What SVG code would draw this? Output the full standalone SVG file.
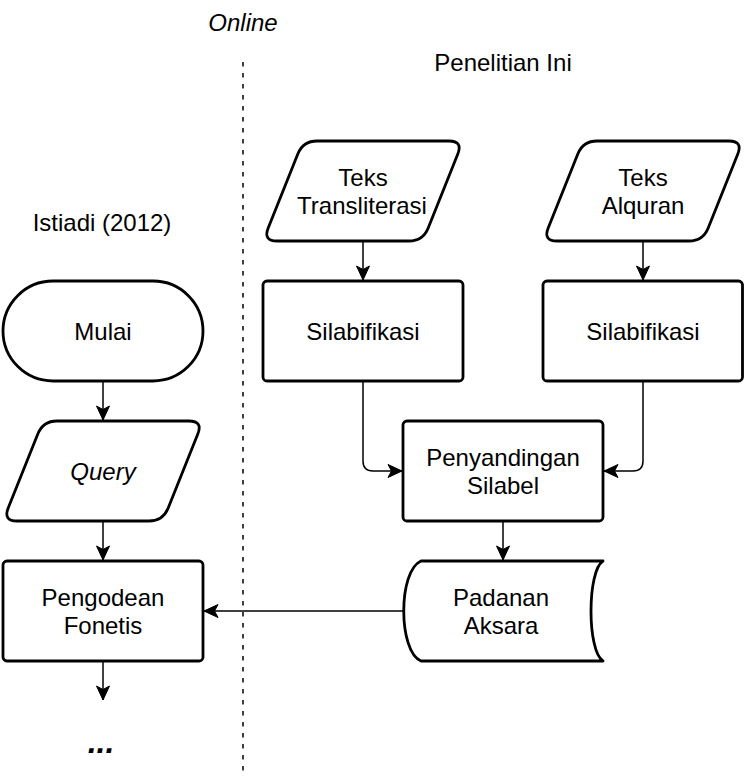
<svg xmlns="http://www.w3.org/2000/svg" xmlns:xlink="http://www.w3.org/1999/xlink" width="744" height="784" viewBox="0 0 744 784">
  <style>
    .shape { fill: #ffffff; stroke: #000000; stroke-width: 2.8; stroke-linejoin: round; }
    .conn { fill: none; stroke: #000000; stroke-width: 1.5; }
    .dash { fill: none; stroke: #000000; stroke-width: 1.5; stroke-dasharray: 4.5 6.5; }
    text { font-family: "Liberation Sans", Arial, Helvetica, sans-serif; font-size: 24px; fill: #000000; text-anchor: middle; dominant-baseline: central; }
    .it { font-style: italic; }
    .dots { font-size: 32px; font-weight: bold; font-style: italic; dominant-baseline: alphabetic; }
  </style>
  <defs>
    <marker id="arrow" viewBox="-15 -8 16 16" refX="0" refY="0" markerWidth="16" markerHeight="16" orient="auto" markerUnits="userSpaceOnUse">
      <path d="M0,0 L-14,-6.5 L-10.5,0 L-14,6.5 Z" fill="#000000" stroke="#000000" stroke-width="1" stroke-linejoin="miter"/>
    </marker>
    <path id="para" d="M54,0 H186 Q200,0 194.8,13 L165.2,87 Q160,100 146,100 H14 Q0,100 5.2,87 L34.8,13 Q40,0 54,0 Z"/>
  </defs>
  <rect x="0" y="0" width="744" height="784" fill="#ffffff"/>

  <g id="labels">
    <text class="it" x="243" y="22">Online</text>
    <text x="503" y="62">Penelitian Ini</text>
    <text x="102" y="222">Istiadi (2012)</text>
  </g>

  <g id="connectors">
    <path class="dash" d="M243,62 V775"/>
    <path class="conn" d="M103,381 V420" marker-end="url(#arrow)"/>
    <path class="conn" d="M103,521 V560" marker-end="url(#arrow)"/>
    <path class="conn" d="M103,661 V700" marker-end="url(#arrow)"/>
    <path class="conn" d="M363,241 V280" marker-end="url(#arrow)"/>
    <path class="conn" d="M643,241 V280" marker-end="url(#arrow)"/>
    <path class="conn" d="M363,381 V461 Q363,471 373,471 H402" marker-end="url(#arrow)"/>
    <path class="conn" d="M643,381 V461 Q643,471 633,471 H604" marker-end="url(#arrow)"/>
    <path class="conn" d="M503,521 V560" marker-end="url(#arrow)"/>
    <path class="conn" d="M403,611 H204" marker-end="url(#arrow)"/>
  </g>

  <g id="mulai">
    <rect class="shape" x="3" y="281" width="200" height="100" rx="50" ry="50"/>
    <text x="103" y="331">Mulai</text>
  </g>

  <g id="query">
    <use xlink:href="#para" href="#para" class="shape" x="3" y="421"/>
    <text class="it" x="103" y="471">Query</text>
  </g>

  <g id="pengodean-fonetis">
    <rect class="shape" x="3" y="561" width="200" height="100" rx="4" ry="4"/>
    <text x="103" y="597.5">Pengodean</text>
    <text x="103" y="625">Fonetis</text>
  </g>

  <g id="ellipsis">
    <text class="dots" x="101" y="753">...</text>
  </g>

  <g id="teks-transliterasi">
    <use xlink:href="#para" href="#para" class="shape" x="263" y="141"/>
    <text x="363" y="177.5">Teks</text>
    <text x="362" y="205">Transliterasi</text>
  </g>

  <g id="teks-alquran">
    <use xlink:href="#para" href="#para" class="shape" x="543" y="141"/>
    <text x="643" y="177.5">Teks</text>
    <text x="643" y="205">Alquran</text>
  </g>

  <g id="silabifikasi-1">
    <rect class="shape" x="263" y="281" width="200" height="100" rx="4" ry="4"/>
    <text x="363" y="331">Silabifikasi</text>
  </g>

  <g id="silabifikasi-2">
    <rect class="shape" x="543" y="281" width="199.5" height="100" rx="4" ry="4"/>
    <text x="643" y="331">Silabifikasi</text>
  </g>

  <g id="penyandingan-silabel">
    <rect class="shape" x="403" y="421" width="200" height="100" rx="4" ry="4"/>
    <text x="503" y="457.5">Penyandingan</text>
    <text x="503" y="485">Silabel</text>
  </g>

  <g id="padanan-aksara">
    <path class="shape" d="M421,561 H603 C587,571 587,651 603,661 H421 C398,651 398,571 421,561 Z"/>
    <text x="501" y="597.5">Padanan</text>
    <text x="501" y="625">Aksara</text>
  </g>
</svg>
